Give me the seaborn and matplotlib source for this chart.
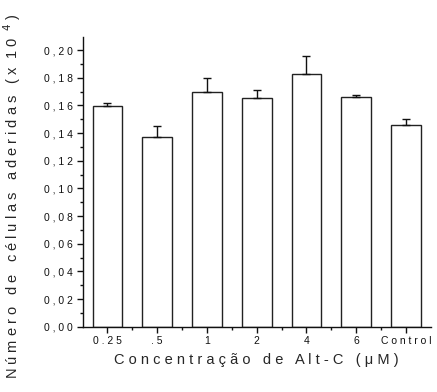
import matplotlib
matplotlib.use("Agg")
import matplotlib.pyplot as plt
import seaborn as sns
import pandas as pd
import numpy as np
from matplotlib.ticker import MultipleLocator, FixedLocator, FixedFormatter

categories = ["0.25", ".5", "1", "2", "4", "6", "Control"]
values = [0.1595, 0.1370, 0.1700, 0.1651, 0.1824, 0.1660, 0.1458]
errors = [0.0020, 0.0083, 0.0102, 0.0060, 0.0136, 0.0013, 0.0046]
ytick_values = [0.00, 0.02, 0.04, 0.06, 0.08, 0.10, 0.12, 0.14, 0.16, 0.18, 0.20]
ytick_labels = ["0,00", "0,02", "0,04", "0,06", "0,08", "0,10", "0,12", "0,14", "0,16", "0,18", "0,20"]

sns.set_style("ticks")
plt.rcParams['font.family'] = ['Liberation Sans', 'DejaVu Sans']

def spaced(s):
    return " ".join(list(s))

df = pd.DataFrame({"conc": categories, "cells": values})

fig = plt.figure(figsize=(4.37, 3.92), dpi=100)
ax = fig.add_axes([0.189, 0.1666, 0.797, 0.7394])

sns.barplot(data=df, x="conc", y="cells", ax=ax, color="white",
            edgecolor="#222222", linewidth=1.0, width=0.6, errorbar=None)
for p in ax.patches:
    p.set_facecolor("white")

xpos = np.arange(len(categories))
ax.errorbar(xpos, values, yerr=[np.zeros(len(errors)), errors], fmt="none",
            ecolor="#111111", elinewidth=1.0, capsize=3, capthick=1.0)

ax.set_xlim(-0.5, 6.5)
ax.set_ylim(0, 0.2096)
ax.yaxis.set_major_locator(FixedLocator(ytick_values))
ax.yaxis.set_major_formatter(FixedFormatter([spaced(t) for t in ytick_labels]))
ax.yaxis.set_minor_locator(MultipleLocator(0.01))
ax.set_xticks(xpos)
ax.set_xticklabels([spaced(c) for c in categories])
ax.set_xticks(xpos[:-1] + 0.5, minor=True)

for s in ["top", "right"]:
    ax.spines[s].set_visible(False)
for s in ["left", "bottom"]:
    ax.spines[s].set_linewidth(1.0)
    ax.spines[s].set_color("#111111")

ax.tick_params(axis="both", which="major", length=4, width=1.0, labelsize=7.5, direction="out", colors="#111111", pad=3)
ax.tick_params(axis="both", which="minor", length=2.5, width=1.0, direction="out", colors="#111111")

ax.set_xlabel(spaced("Concentração de Alt-C") + "   ( " + "μ M )", fontsize=10.5, labelpad=5)
ax.set_ylabel(spaced("Número de células aderidas") + "   ( x  1 0  $^{4}$ )", fontsize=10.5, labelpad=7)
ax.yaxis.set_label_coords(-0.17, 0.45)

fig.savefig("out.png", dpi=100)
